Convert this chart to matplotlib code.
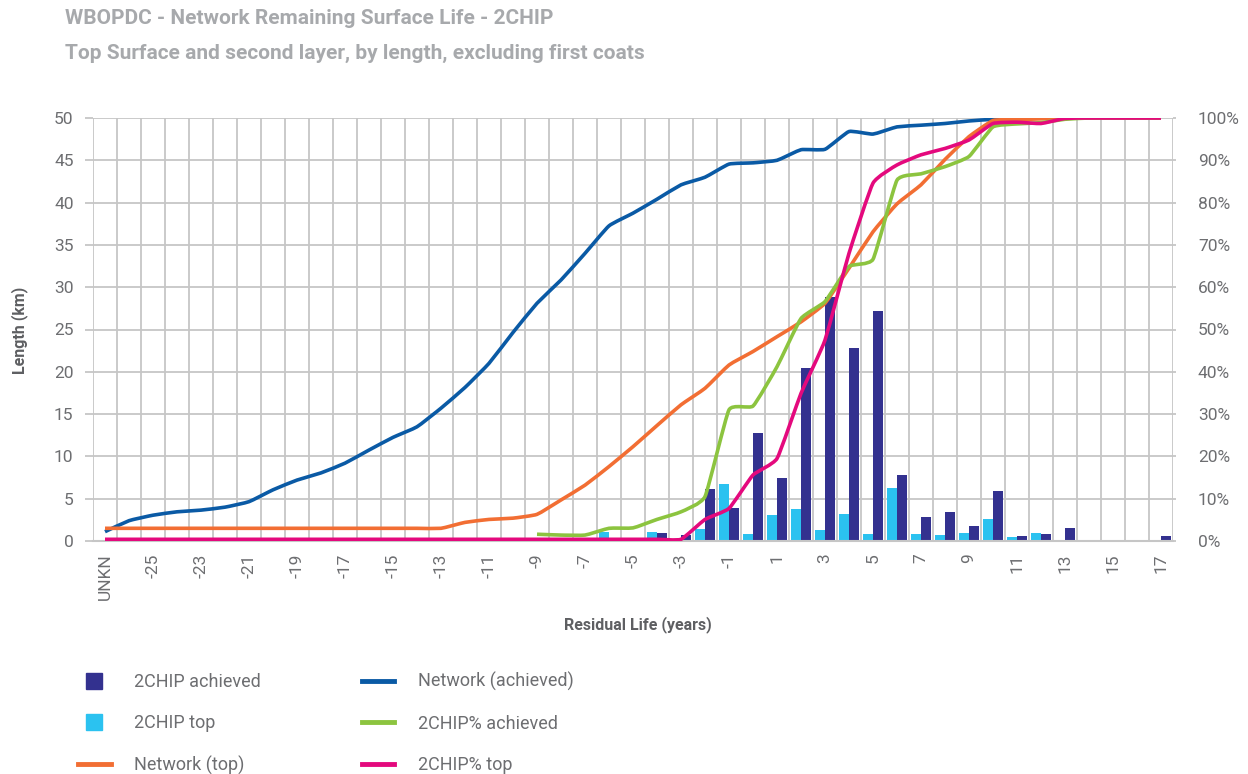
import numpy as np
import matplotlib
matplotlib.use('Agg')
import matplotlib.pyplot as plt
from matplotlib.path import Path
from matplotlib.patches import PathPatch
from matplotlib.lines import Line2D

plt.rcParams['font.family'] = ['Roboto', 'DejaVu Sans']

categories = ['UNKN', '-26', '-25', '-24', '-23', '-22', '-21', '-20', '-19', '-18',
              '-17', '-16', '-15', '-14', '-13', '-12', '-11', '-10', '-9', '-8',
              '-7', '-6', '-5', '-4', '-3', '-2', '-1', '0', '1', '2',
              '3', '4', '5', '6', '7', '8', '9', '10', '11', '12',
              '13', '14', '15', '16', '17']

# km (left axis)
chip_achieved = [0, 0, 0, 0, 0, 0, 0, 0, 0, 0,
                 0, 0, 0, 0, 0, 0, 0, 0, 0, 0,
                 0, 0, 0, 1.0, 0.7, 6.1, 3.9, 12.8, 7.5, 20.4,
                 28.9, 22.8, 27.2, 7.8, 2.8, 3.4, 1.8, 5.9, 0.6, 0.8,
                 1.5, 0, 0, 0, 0.6]
chip_top = [0, 0, 0, 0, 0, 0, 0, 0, 0, 0,
            0, 0, 0, 0, 0, 0, 0, 0, 0, 0,
            0, 1.1, 0, 1.1, 0, 1.4, 6.7, 0.8, 3.1, 3.8,
            1.3, 3.2, 0.8, 6.3, 0.8, 0.7, 0.9, 2.6, 0.5, 0.9,
            0, 0, 0, 0, 0]

# cumulative % (right axis)
network_achieved = [2.2, 4.8, 6.1, 6.9, 7.3, 8.0, 9.3, 12.1, 14.4, 16.1,
                    18.4, 21.5, 24.5, 27.0, 31.4, 36.3, 42.0, 49.3, 56.2, 61.7,
                    68.0, 74.5, 77.5, 80.8, 84.2, 86.0, 89.1, 89.4, 90.0, 92.5,
                    92.6, 96.8, 96.2, 97.9, 98.3, 98.7, 99.3, 99.7, 99.9, 100,
                    100, 100, 100, 100, 100]
network_top = [3.0, 3.0, 3.0, 3.0, 3.0, 3.0, 3.0, 3.0, 3.0, 3.0,
               3.0, 3.0, 3.0, 3.0, 3.0, 4.4, 5.1, 5.4, 6.3, 9.7,
               13.2, 17.6, 22.3, 27.3, 32.2, 36.1, 41.6, 44.8, 48.3, 51.8,
               56.2, 64.5, 73.1, 79.7, 84.2, 90.2, 95.6, 99.4, 99.6, 99.8,
               100, 100, 100, 100, 100]
chip_pct_achieved = [None, None, None, None, None, None, None, None, None, None,
                     None, None, None, None, None, None, None, None, 1.6, 1.4,
                     1.4, 3.0, 3.1, 5.1, 6.9, 10.5, 31.0, 31.9, 41.2, 52.6,
                     56.6, 64.9, 66.6, 85.3, 86.8, 88.5, 90.9, 97.9, 98.6, 98.9,
                     99.7, 100, 100, 100, 100]
chip_pct_top = [0.4, 0.4, 0.4, 0.4, 0.4, 0.4, 0.4, 0.4, 0.4, 0.4,
                0.4, 0.4, 0.4, 0.4, 0.4, 0.4, 0.4, 0.4, 0.4, 0.4,
                0.4, 0.4, 0.4, 0.4, 0.4, 5.1, 7.7, 15.6, 19.5, 34.9,
                47.5, 68.0, 84.6, 88.9, 91.3, 92.8, 94.8, 98.7, 99.0, 98.7,
                99.9, 100, 100, 100, 100]

C_DARK = '#33318F'
C_LIGHT = '#2BC2F0'
C_BLUE = '#0A5AA5'
C_ORANGE = '#F26E33'
C_GREEN = '#8CC43F'
C_MAGENTA = '#E4097D'
C_GRID = '#C6C6C6'
C_TICK = '#6D6E71'
C_TITLE = '#A7A9AC'
C_LABEL = '#5E5F62'

W, H = 1248, 774
fig = plt.figure(figsize=(W / 100, H / 100), dpi=100)
ax = fig.add_axes([93 / W, 1 - 541 / H, 1080 / W, 423 / H])
ax2 = ax.twinx()

x = np.arange(len(categories))
bw = 0.42
ax.bar(x - bw / 2, chip_top, width=bw, color=C_LIGHT, zorder=2)
ax.bar(x + bw / 2, chip_achieved, width=bw, color=C_DARK, zorder=2)

ax.set_xlim(-0.5, len(categories) - 0.5)
ax.set_ylim(0, 50)
ax2.set_ylim(0, 100)

TENSION = 1.0 / 14.0


def smooth_path(xs, ys):
    pts = [(a, b) for a, b in zip(xs, ys) if b is not None]
    p = np.array(pts, dtype=float)
    n = len(p)
    verts = [p[0]]
    codes = [Path.MOVETO]
    for i in range(n - 1):
        p0 = p[i - 1] if i > 0 else p[i]
        p1 = p[i]
        p2 = p[i + 1]
        p3 = p[i + 2] if i + 2 < n else p[i + 1]
        c1 = p1 + (p2 - p0) * TENSION
        c2 = p2 - (p3 - p1) * TENSION
        verts += [c1, c2, p2]
        codes += [Path.CURVE4] * 3
    return Path(verts, codes)


for series, col in [(network_achieved, C_BLUE), (network_top, C_ORANGE),
                    (chip_pct_achieved, C_GREEN), (chip_pct_top, C_MAGENTA)]:
    patch = PathPatch(smooth_path(x, series), facecolor='none', edgecolor=col,
                      lw=2.6, capstyle='butt', joinstyle='round', zorder=3)
    ax2.add_patch(patch)

# grid
ax.set_axisbelow(True)
ax.set_xticks(np.arange(-0.5, len(categories), 1), minor=True)
ax.grid(which='minor', axis='x', color=C_GRID, lw=1.3)
ax.set_yticks(np.arange(0, 51, 5))
ax.grid(which='major', axis='y', color=C_GRID, lw=1.3)
ax.set_xticks(x[::2])
ax.set_xticklabels(categories[::2], rotation=90, fontsize=12.5, color=C_TICK)
ax.tick_params(axis='x', which='both', length=0, pad=9)
ax.tick_params(axis='y', length=6, color=C_GRID, width=1.3, labelsize=12.5,
               labelcolor=C_TICK, pad=8)
ax2.set_yticks(np.arange(0, 101, 10))
ax2.set_yticklabels([f'{v}%' for v in range(0, 101, 10)])
ax2.tick_params(axis='y', length=2, color=C_GRID, width=1.3, labelsize=12.5,
                labelcolor=C_TICK, pad=16)
for a in (ax, ax2):
    for s in a.spines.values():
        s.set_visible(False)
ax.spines['bottom'].set_visible(True)
ax.spines['bottom'].set_color(C_GRID)
ax.spines['bottom'].set_linewidth(1.5)

fig.text(20 / W, 1 - 330 / H, 'Length (km)', rotation=90, ha='center', va='center',
         fontsize=11.5, fontweight='bold', color=C_LABEL)
fig.text(638 / W, 1 - 625 / H, 'Residual Life (years)', ha='center', va='center',
         fontsize=11.5, fontweight='bold', color=C_LABEL)

fig.text(65 / W, 1 - 18 / H, 'WBOPDC - Network Remaining Surface Life - 2CHIP',
         ha='left', va='center', fontsize=15, fontweight='bold', color=C_TITLE)
fig.text(65 / W, 1 - 53 / H, 'Top Surface and second layer, by length, excluding first coats',
         ha='left', va='center', fontsize=15, fontweight='bold', color=C_TITLE)

handles = [
    Line2D([], [], marker='s', ms=12, color=C_DARK, ls='none'),
    Line2D([], [], marker='s', ms=12, color=C_LIGHT, ls='none'),
    Line2D([], [], color=C_ORANGE, lw=3.5),
    Line2D([], [], color=C_BLUE, lw=3.5),
    Line2D([], [], color=C_GREEN, lw=3.5),
    Line2D([], [], color=C_MAGENTA, lw=3.5),
]
labels = ['2CHIP achieved', '2CHIP top', 'Network (top)',
          'Network (achieved)', '2CHIP% achieved', '2CHIP% top']
leg = fig.legend(handles, labels, loc='upper left', ncol=2,
                 bbox_to_anchor=(78 / W, 1 - 672 / H), frameon=False,
                 fontsize=13, handlelength=1.8, handletextpad=1.3,
                 columnspacing=5.6, labelspacing=1.3, borderpad=0,
                 borderaxespad=0)
for t in leg.get_texts():
    t.set_color(C_TICK)

fig.savefig('out.png', dpi=100)
